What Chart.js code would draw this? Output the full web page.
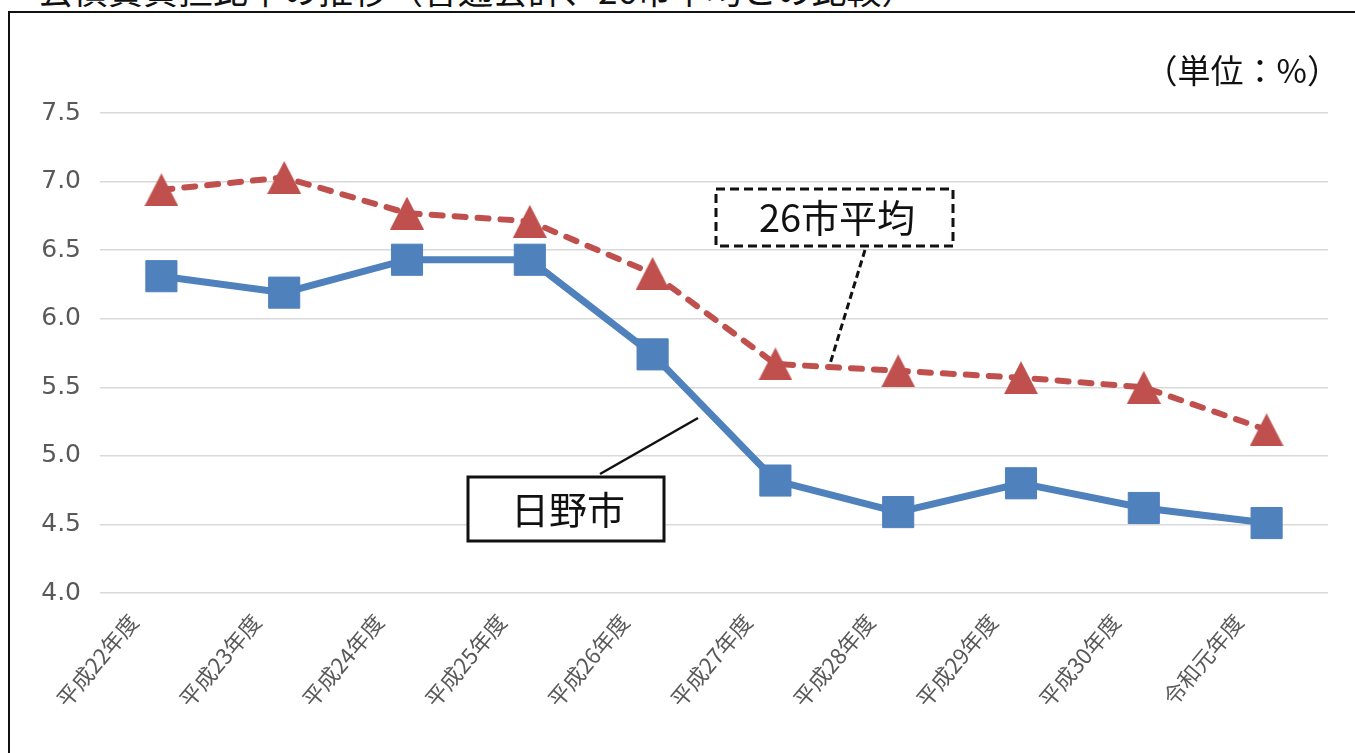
<!DOCTYPE html>
<html lang="ja">
<head>
<meta charset="utf-8">
<script src="https://cdn.jsdelivr.net/npm/chart.js@4/dist/chart.umd.min.js"></script>
<style>
  html, body { margin: 0; padding: 0; background: #fff; }
  #wrap { position: relative; width: 1355px; height: 753px; overflow: hidden; background: #fff; }
  #c { position: absolute; left: 0; top: 0; }
  #frame { position: absolute; left: 8px; top: 11px; width: 1500px; height: 900px; border-left: 2px solid #111; border-top: 2px solid #111; pointer-events: none; }
  #title { position: absolute; left: 38px; top: -31px; font-family: "Noto Sans CJK JP", sans-serif; font-size: 35px; line-height: 40px; color: #111; white-space: nowrap; }
</style>
</head>
<body>
<div id="wrap">
  <div id="title">公債費負担比率の推移（普通会計、26市平均との比較）</div>
  <canvas id="c" width="1355" height="753"></canvas>
  <div id="frame"></div>
</div>
<script>
// ---- data ----
const categories = ['平成22年度', '平成23年度', '平成24年度', '平成25年度', '平成26年度', '平成27年度', '平成28年度', '平成29年度', '平成30年度', '令和元年度'];
const hinoValues = [6.31, 6.19, 6.43, 6.43, 5.74, 4.82, 4.59, 4.80, 4.62, 4.51];
const avg26Values = [6.94, 7.03, 6.77, 6.71, 6.33, 5.67, 5.62, 5.57, 5.50, 5.19];
const seriesNames = ['日野市', '26市平均'];
const yMin = 4.0, yMax = 7.5, yStep = 0.5;
const unitLabel = '（単位：%）';

// triangle marker, centred on its bounding box (as in the source)
function makeTriangle(w, h, color) {
  const cv = document.createElement('canvas');
  cv.width = w; cv.height = h;
  const g = cv.getContext('2d');
  g.fillStyle = color;
  g.beginPath();
  g.moveTo(w / 2, 0);
  g.lineTo(w, h);
  g.lineTo(0, h);
  g.closePath();
  g.fill();
  return cv;
}
const BLUE = '#4F81BD', RED = '#C0504D';
const tri = makeTriangle(34, 33, RED);

const annotations = {
  id: 'annotations',
  afterDatasetsDraw(chart) {
    const ctx = chart.ctx;
    ctx.save();
    // leader for 26市平均 (dashed)
    ctx.strokeStyle = '#111';
    ctx.lineWidth = 3;
    ctx.setLineDash([7, 4]);
    ctx.beginPath(); ctx.moveTo(865, 250); ctx.lineTo(830, 364); ctx.stroke();
    // box 26市平均
    ctx.fillStyle = '#fff';
    ctx.fillRect(716, 189, 237, 57);
    ctx.lineWidth = 3;
    ctx.setLineDash([9, 5]);
    ctx.strokeRect(716, 189, 237, 57);
    ctx.setLineDash([]);
    // leader for 日野市 (solid)
    ctx.lineWidth = 2.5;
    ctx.beginPath(); ctx.moveTo(600, 474); ctx.lineTo(698, 418); ctx.stroke();
    // box 日野市
    ctx.fillStyle = '#fff';
    ctx.fillRect(468, 477, 196, 64);
    ctx.lineWidth = 3;
    ctx.strokeRect(468, 477, 196, 64);
    // texts
    ctx.fillStyle = '#111';
    ctx.textAlign = 'center';
    ctx.textBaseline = 'middle';
    ctx.font = '38px "Noto Sans CJK JP", sans-serif';
    ctx.fillText(seriesNames[1], 837, 218);
    ctx.fillText(seriesNames[0], 568, 510);
    ctx.font = '33px "Noto Sans CJK JP", sans-serif';
    ctx.textAlign = 'right';
    ctx.fillText(unitLabel, 1340, 70);
    ctx.restore();
  }
};

new Chart(document.getElementById('c'), {
  type: 'line',
  data: {
    labels: categories,
    datasets: [
      {
        label: seriesNames[1],
        data: avg26Values,
        borderColor: RED,
        backgroundColor: RED,
        borderWidth: 6,
        borderDash: [11, 12],
        borderCapStyle: 'round',
        pointStyle: tri,
        pointRadius: 17,
        tension: 0,
        fill: false
      },
      {
        label: seriesNames[0],
        data: hinoValues,
        borderColor: BLUE,
        backgroundColor: BLUE,
        borderWidth: 7,
        pointStyle: 'rect',
        pointRadius: 22,
        pointBorderWidth: 1,
        pointBorderColor: BLUE,
        pointBackgroundColor: BLUE,
        tension: 0,
        fill: false
      }
    ]
  },
  options: {
    responsive: false,
    animation: false,
    events: [],
    layout: { padding: { left: 10, right: 27, top: 113, bottom: 0 } },
    plugins: { legend: { display: false }, tooltip: { enabled: false } },
    scales: {
      x: {
        offset: true,
        grid: { display: false },
        border: { display: false },
        ticks: {
          color: '#595959',
          font: { family: '"Noto Sans CJK JP", sans-serif', size: 22 },
          minRotation: 50,
          maxRotation: 50,
          autoSkip: false,
          padding: 8,
          labelOffset: -28
        },
        afterFit(axis) { axis.height = 160; }
      },
      y: {
        min: yMin,
        max: yMax,
        grid: { color: '#d9d9d9', lineWidth: 1.5, drawTicks: false },
        border: { display: false },
        ticks: {
          stepSize: yStep,
          color: '#595959',
          font: { family: '"DejaVu Sans", sans-serif', size: 25 },
          padding: 19,
          callback: v => Number(v).toFixed(1)
        },
        afterFit(axis) { axis.width = 90; }
      }
    }
  },
  plugins: [annotations]
});
</script>
</body>
</html>
